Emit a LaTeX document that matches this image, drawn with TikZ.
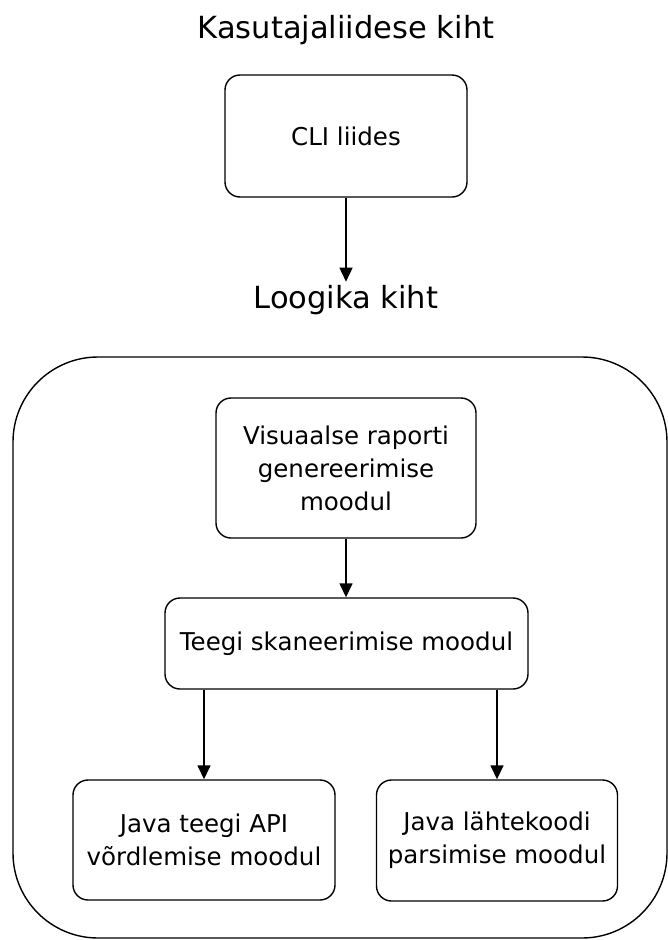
\documentclass[tikz,border=0pt]{standalone}
\usepackage{fontspec}
\setmainfont{DejaVu Sans}
\usetikzlibrary{arrows.meta}
\begin{document}
\begin{tikzpicture}[x=1pt,y=-1pt,
  box/.style={draw,line width=1.4pt,rounded corners=15pt,align=center,font=\fontsize{24.5}{33}\selectfont,inner sep=0pt},
  title/.style={font=\fontsize{30.5}{36}\selectfont},
  arr/.style={-{Triangle[length=14pt,width=13pt]},line width=1.5pt}]
\useasboundingbox (0,0) rectangle (668,940);
\node[title] (t1) at (346,30) {Kasutajaliidese kiht};
\node[box,minimum width=242pt,minimum height=122pt] (cli) at (346,136) {CLI liides};
\node[title] (t2) at (346,300) {Loogika kiht};
\draw[line width=1.4pt,rounded corners=85pt] (13,357) rectangle (667,938);
\node[box,minimum width=260pt,minimum height=140pt] (vis) at (346,468) {Visuaalse raporti\\genereerimise\\moodul};
\node[box,minimum width=363pt,minimum height=91pt] (teeg) at (346.5,643.5) {Teegi skaneerimise moodul};
\node[box,minimum width=262pt,minimum height=120pt] (api) at (204,840) {Java teegi API\\võrdlemise moodul};
\node[box,minimum width=241pt,minimum height=121pt] (par) at (497,840.5) {Java lähtekoodi\\parsimise moodul};
\draw[arr] (cli.south) -- (cli.south |- t2.north);
\draw[arr] (vis.south) -- (vis.south |- teeg.north);
\draw[arr] (teeg.south -| api.north) -- (api.north);
\draw[arr] (teeg.south -| par.north) -- (par.north);
\end{tikzpicture}
\end{document}
